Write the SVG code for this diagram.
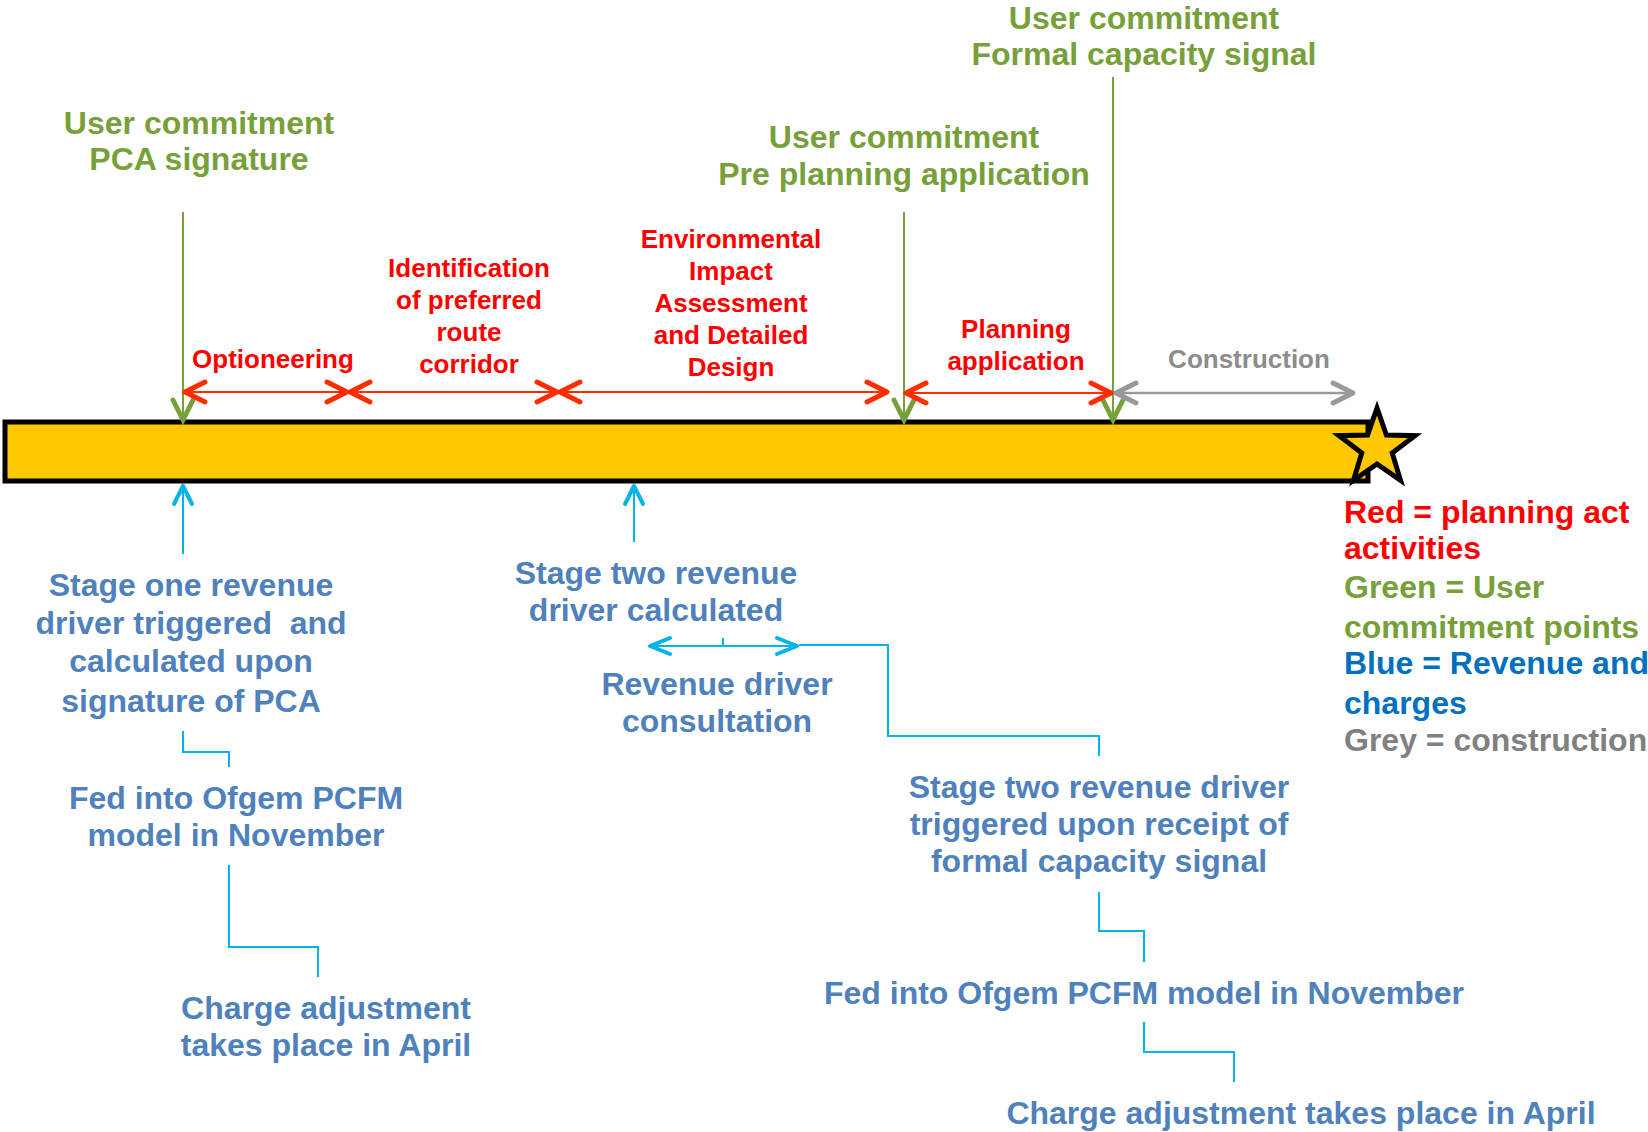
<svg xmlns="http://www.w3.org/2000/svg" width="1648" height="1132" viewBox="0 0 1648 1132">
<style>
text{font-family:"Liberation Sans",Arial,sans-serif;font-weight:bold;}
.g{fill:#77A03A;font-size:32px;text-anchor:middle;}
.r{fill:#FF0000;font-size:26px;text-anchor:middle;}
.gr{fill:#8C8C8C;font-size:26px;text-anchor:middle;}
.b{fill:#4F81BD;font-size:32px;text-anchor:middle;}
.lg{font-size:32px;}
.gl{stroke:#77A03A;stroke-width:2;fill:none;}
.rl{stroke:#FF2D00;stroke-width:2;fill:none;}
.grl{stroke:#999999;stroke-width:2.5;fill:none;}
.cl{stroke:#00B4E4;stroke-width:2;fill:none;}
</style>
<defs>
<marker id="mGreen" viewBox="-26 -16 32 32" refX="0" refY="0" markerWidth="32" markerHeight="32" markerUnits="userSpaceOnUse" orient="auto-start-reverse" overflow="visible">
<path d="M-20,-10 L0,0 L-20,10" fill="none" stroke="#77A03A" stroke-width="5" stroke-linecap="round" stroke-linejoin="miter"/>
</marker>
<marker id="mRed" viewBox="-26 -16 32 32" refX="0" refY="0" markerWidth="32" markerHeight="32" markerUnits="userSpaceOnUse" orient="auto-start-reverse" overflow="visible">
<path d="M-20,-10 L0,0 L-20,10" fill="none" stroke="#FF2D00" stroke-width="5" stroke-linecap="round" stroke-linejoin="round"/>
</marker>
<marker id="mGrey" viewBox="-26 -16 32 32" refX="0" refY="0" markerWidth="32" markerHeight="32" markerUnits="userSpaceOnUse" orient="auto-start-reverse" overflow="visible">
<path d="M-20,-10 L0,0 L-20,10" fill="none" stroke="#999999" stroke-width="5" stroke-linecap="round" stroke-linejoin="round"/>
</marker>
<marker id="mCyan" viewBox="-26 -16 32 32" refX="0" refY="0" markerWidth="32" markerHeight="32" markerUnits="userSpaceOnUse" orient="auto-start-reverse" overflow="visible">
<path d="M-18,-9 L0,0 L-18,9" fill="none" stroke="#00B4E4" stroke-width="4" stroke-linecap="round" stroke-linejoin="round"/>
</marker>
<marker id="mCyanS" viewBox="-26 -16 32 32" refX="0" refY="0" markerWidth="32" markerHeight="32" markerUnits="userSpaceOnUse" orient="auto-start-reverse" overflow="visible">
<path d="M-20,-8 L0,0 L-20,8" fill="none" stroke="#00B4E4" stroke-width="4" stroke-linecap="round" stroke-linejoin="round"/>
</marker>
</defs>
<rect width="1648" height="1132" fill="#FFFFFF"/>

<g id="timeline-bar">
<rect x="5" y="422" width="1363" height="59" fill="#FFC800" stroke="#000000" stroke-width="5"/>
</g>
<g id="end-star">
<polygon points="1377,408 1386.4,435.06 1415.04,435.64 1392.22,452.94 1400.51,480.36 1377,464 1353.49,480.36 1361.78,452.94 1338.96,435.64 1367.6,435.06" fill="#FFC800" stroke="#000000" stroke-width="5" stroke-linejoin="miter" stroke-miterlimit="10"/>
</g>

<g id="connectors">
<line class="gl" x1="183" y1="212" x2="183" y2="420" marker-end="url(#mGreen)"/>
<line class="gl" x1="904" y1="212" x2="904" y2="420" marker-end="url(#mGreen)"/>
<line class="gl" x1="1113" y1="77" x2="1113" y2="420" marker-end="url(#mGreen)"/>
<line class="rl" x1="185" y1="392" x2="347" y2="392" marker-start="url(#mRed)" marker-end="url(#mRed)"/>
<line class="rl" x1="350" y1="392" x2="557" y2="392" marker-start="url(#mRed)" marker-end="url(#mRed)"/>
<line class="rl" x1="560" y1="392" x2="887" y2="392" marker-start="url(#mRed)" marker-end="url(#mRed)"/>
<line class="rl" x1="906" y1="393" x2="1111" y2="393" marker-start="url(#mRed)" marker-end="url(#mRed)"/>
<line class="grl" x1="1116" y1="393" x2="1353" y2="393" marker-start="url(#mGrey)" marker-end="url(#mGrey)"/>
<line class="cl" x1="183" y1="554" x2="183" y2="486" marker-end="url(#mCyan)"/>
<line class="cl" x1="634" y1="542" x2="634" y2="486" marker-end="url(#mCyan)"/>
<path class="cl" d="M183,731 V752 H229 V767"/>
<path class="cl" d="M229,865 V947 H318 V977"/>
<line class="cl" x1="650" y1="646" x2="797" y2="646" marker-start="url(#mCyanS)" marker-end="url(#mCyanS)"/>
<line class="cl" x1="723" y1="638" x2="723" y2="646"/>
<path class="cl" d="M799,645 H888 V736 H1099 V756"/>
<path class="cl" d="M1099,892 V931 H1144 V962"/>
<path class="cl" d="M1144,1022 V1052 H1234 V1082"/>
</g>

<g id="uc-pca">
<text class="g" x="199" y="134">User commitment</text>
<text class="g" x="199" y="170">PCA signature</text>
</g>
<g id="uc-preplanning">
<text class="g" x="904" y="148">User commitment</text>
<text class="g" x="904" y="185">Pre planning application</text>
</g>
<g id="uc-formal">
<text class="g" x="1144" y="29">User commitment</text>
<text class="g" x="1144" y="65">Formal capacity signal</text>
</g>

<g id="optioneering">
<text class="r" x="273" y="368">Optioneering</text>
</g>
<g id="identification">
<text class="r" x="469" y="277">Identification</text>
<text class="r" x="469" y="309">of preferred</text>
<text class="r" x="469" y="341">route</text>
<text class="r" x="469" y="373">corridor</text>
</g>
<g id="eia">
<text class="r" x="731" y="248">Environmental</text>
<text class="r" x="731" y="280">Impact</text>
<text class="r" x="731" y="312">Assessment</text>
<text class="r" x="731" y="344">and Detailed</text>
<text class="r" x="731" y="376">Design</text>
</g>
<g id="planning-application">
<text class="r" x="1016" y="338">Planning</text>
<text class="r" x="1016" y="370">application</text>
</g>
<g id="construction">
<text class="gr" x="1249" y="368">Construction</text>
</g>

<g id="stage-one">
<text class="b" x="191" y="596">Stage one revenue</text>
<text class="b" x="191" y="634" xml:space="preserve">driver triggered  and</text>
<text class="b" x="191" y="672">calculated upon</text>
<text class="b" x="191" y="712">signature of PCA</text>
</g>
<g id="fed-into-1">
<text class="b" x="236" y="809">Fed into Ofgem PCFM</text>
<text class="b" x="236" y="846">model in November</text>
</g>
<g id="charge-1">
<text class="b" x="326" y="1019">Charge adjustment</text>
<text class="b" x="326" y="1056">takes place in April</text>
</g>
<g id="stage-two-calc">
<text class="b" x="656" y="584">Stage two revenue</text>
<text class="b" x="656" y="621">driver calculated</text>
</g>
<g id="consultation">
<text class="b" x="717" y="695">Revenue driver</text>
<text class="b" x="717" y="732">consultation</text>
</g>
<g id="stage-two-trigger">
<text class="b" x="1099" y="798">Stage two revenue driver</text>
<text class="b" x="1099" y="835">triggered upon receipt of</text>
<text class="b" x="1099" y="872">formal capacity signal</text>
</g>
<g id="fed-into-2">
<text class="b" x="1144" y="1004">Fed into Ofgem PCFM model in November</text>
</g>
<g id="charge-2">
<text class="b" x="1301" y="1124">Charge adjustment takes place in April</text>
</g>

<g id="legend">
<text class="lg" x="1344" y="523" fill="#FF0000">Red = planning act</text>
<text class="lg" x="1344" y="559" fill="#FF0000">activities</text>
<text class="lg" x="1344" y="598" fill="#77A03A">Green = User</text>
<text class="lg" x="1344" y="638" fill="#77A03A">commitment points</text>
<text class="lg" x="1344" y="674" fill="#0070C0">Blue = Revenue and</text>
<text class="lg" x="1344" y="714" fill="#0070C0">charges</text>
<text class="lg" x="1344" y="751" fill="#808080">Grey = construction</text>
</g>
</svg>
